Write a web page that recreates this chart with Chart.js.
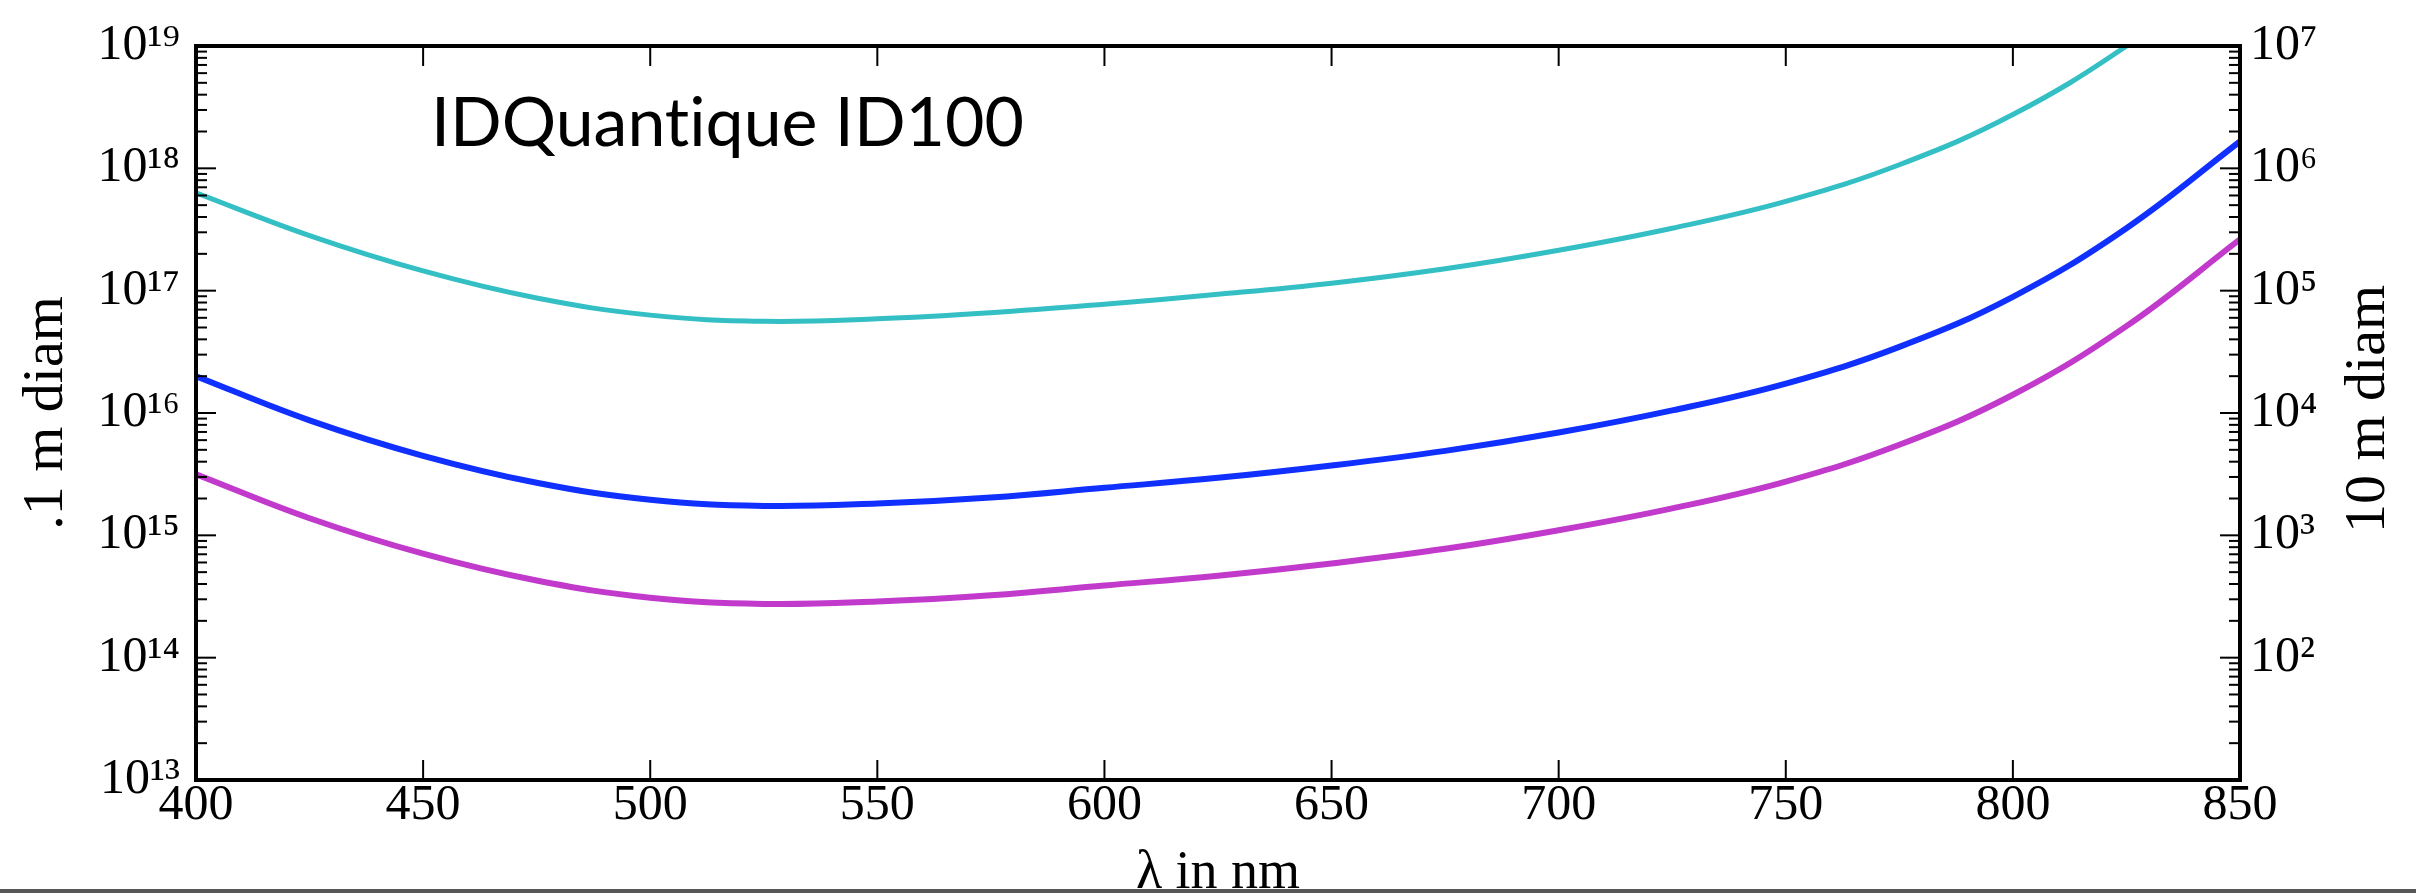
<!DOCTYPE html>
<html lang="en">
<head>
<meta charset="UTF-8">
<title>IDQuantique ID100</title>
<script src="https://cdn.jsdelivr.net/npm/chart.js"></script>
<style>
  body { margin: 0; background: #fff; }
  .wrap { position: relative; width: 2416px; height: 893px; }
  .bottom-bar { position: absolute; left: 0; right: 0; top: 889px; height: 4px; background: #575757; }
</style>
</head>
<body>
<div class="wrap">
  <canvas id="chart"></canvas>
  <div class="bottom-bar"></div>
</div>
<script>
// wavelength in nm
const wavelengths = [400, 425, 450, 475, 500, 525, 550, 575, 600, 625, 650, 675, 700, 725, 750, 775, 800, 825, 850];

const cyanCurve = [6.31e17, 2.82e17, 1.45e17, 8.71e16, 6.31e16, 5.62e16, 5.89e16, 6.61e16, 7.76e16, 9.33e16,
  1.15e17, 1.51e17, 2.14e17, 3.24e17, 5.37e17, 1.07e18, 2.75e18, 1.0e19, 5.01e19];
const blueCurve = [2.0e16, 8.71e15, 4.47e15, 2.69e15, 1.95e15, 1.74e15, 1.82e15, 2.04e15, 2.45e15, 2.95e15,
  3.72e15, 4.9e15, 6.92e15, 1.05e16, 1.74e16, 3.47e16, 8.91e16, 3.24e17, 1.66e18];
const magentaCurve = [3.16e15, 1.38e15, 7.08e14, 4.27e14, 3.09e14, 2.75e14, 2.88e14, 3.24e14, 3.89e14, 4.68e14,
  5.89e14, 7.76e14, 1.1e15, 1.66e15, 2.75e15, 5.5e15, 1.41e16, 5.13e16, 2.63e17];

const xTicks = [400, 450, 500, 550, 600, 650, 700, 750, 800, 850];
const leftTicks = [1e13, 1e14, 1e15, 1e16, 1e17, 1e18, 1e19];
const rightTicks = [1e2, 1e3, 1e4, 1e5, 1e6, 1e7];

const SUP = { '0': '⁰', '1': '¹', '2': '²', '3': '³', '4': '⁴', '5': '⁵', '6': '⁶', '7': '⁷', '8': '⁸', '9': '⁹' };
function powLabel(v) {
  const e = Math.round(Math.log10(v));
  return '10' + String(e).split('').map(d => SUP[d]).join('');
}
function toPoints(arr) {
  return wavelengths.map((w, i) => ({ x: w, y: arr[i] }));
}

const serif = "'Liberation Serif', 'DejaVu Serif', serif";
const tickFont = { family: serif, size: 50 };
const titleFont = { family: serif, size: 58 };

// frame, inward ticks, right title and the annotation
const framePlugin = {
  id: 'frameTicks',
  afterDatasetsDraw(chart) {
    const { ctx, chartArea: a, scales: { x, y, y2 } } = chart;
    const line = (x1, y1, x2, y2_) => { ctx.beginPath(); ctx.moveTo(x1, y1); ctx.lineTo(x2, y2_); ctx.stroke(); };
    ctx.save();
    ctx.strokeStyle = '#000';
    ctx.lineWidth = 2;
    xTicks.forEach(v => {
      const px = x.getPixelForValue(v);
      line(px, a.bottom, px, a.bottom - 20);
      line(px, a.top, px, a.top + 20);
    });
    for (let e = 13; e < 19; e++) {
      for (let k = 1; k < 10; k++) {
        const py = y.getPixelForValue(Number(k + 'e' + e));
        line(a.left, py, a.left + (k === 1 ? 20 : 11), py);
      }
    }
    for (let e = 1; e < 7; e++) {
      for (let k = 1; k < 10; k++) {
        const py = y2.getPixelForValue(Number(k + 'e' + e));
        line(a.right, py, a.right - (k === 1 ? 20 : 11), py);
      }
    }
    ctx.lineWidth = 4;
    ctx.strokeRect(a.left, a.top, a.right - a.left, a.bottom - a.top);

    // right axis title, reads bottom to top
    ctx.fillStyle = '#000';
    ctx.font = `58px ${serif}`;
    ctx.textAlign = 'center';
    ctx.textBaseline = 'middle';
    ctx.translate(2369, (a.top + a.bottom) / 2 - 4);
    ctx.rotate(-Math.PI / 2);
    ctx.fillText('10 m diam', 0, 0);
    ctx.restore();

    ctx.save();
    ctx.fillStyle = '#000';
    ctx.font = "68px Lato, 'Open Sans', sans-serif";
    ctx.textRendering = 'optimizeSpeed';
    ctx.textAlign = 'left';
    ctx.textBaseline = 'alphabetic';
    ctx.fillText('IDQuantique ID100', 431, 146);
    ctx.restore();
  }
};

new Chart(document.getElementById('chart'), {
  type: 'line',
  data: {
    datasets: [
      { data: toPoints(cyanCurve), borderColor: '#33bfc4', borderWidth: 5, yAxisID: 'y' },
      { data: toPoints(blueCurve), borderColor: '#0f30ff', borderWidth: 6, yAxisID: 'y' },
      { data: toPoints(magentaCurve), borderColor: '#c13acb', borderWidth: 6, yAxisID: 'y' }
    ]
  },
  options: {
    responsive: true,
    maintainAspectRatio: false,
    animation: false,
    layout: { padding: { top: 46, left: 0, right: 0, bottom: 0 } },
    elements: {
      point: { radius: 0 },
      line: { tension: 0.4, fill: false }
    },
    plugins: { legend: { display: false }, tooltip: { enabled: false } },
    scales: {
      x: {
        type: 'linear',
        min: 400,
        max: 850,
        grid: { display: false, drawTicks: false },
        border: { display: false },
        afterBuildTicks: s => { s.ticks = xTicks.map(v => ({ value: v })); },
        afterFit: s => { s.height = 113; },
        ticks: { font: tickFont, color: '#000', padding: -4, autoSkip: false, maxRotation: 0 },
        title: { display: true, text: 'λ in nm', font: { family: serif, size: 54 }, color: '#000', padding: { top: 0, bottom: -13 } }
      },
      y: {
        type: 'logarithmic',
        position: 'left',
        min: 1e13,
        max: 1e19,
        grid: { display: false, drawTicks: false },
        border: { display: false },
        afterBuildTicks: s => { s.ticks = leftTicks.map(v => ({ value: v })); },
        afterFit: s => { s.width = 196; },
        ticks: { font: tickFont, color: '#000', padding: 16, autoSkip: false, callback: v => powLabel(v) },
        title: { display: true, text: '.1 m diam', font: titleFont, color: '#000', padding: { top: 12, bottom: 0 } }
      },
      y2: {
        type: 'logarithmic',
        position: 'right',
        min: 1e1,
        max: 1e7,
        grid: { display: false, drawTicks: false },
        border: { display: false },
        afterBuildTicks: s => { s.ticks = rightTicks.map(v => ({ value: v })); },
        afterFit: s => { s.width = 176; },
        ticks: { font: tickFont, color: '#000', padding: 10, autoSkip: false, callback: v => powLabel(v) }
      }
    }
  },
  plugins: [framePlugin]
});
</script>
</body>
</html>
